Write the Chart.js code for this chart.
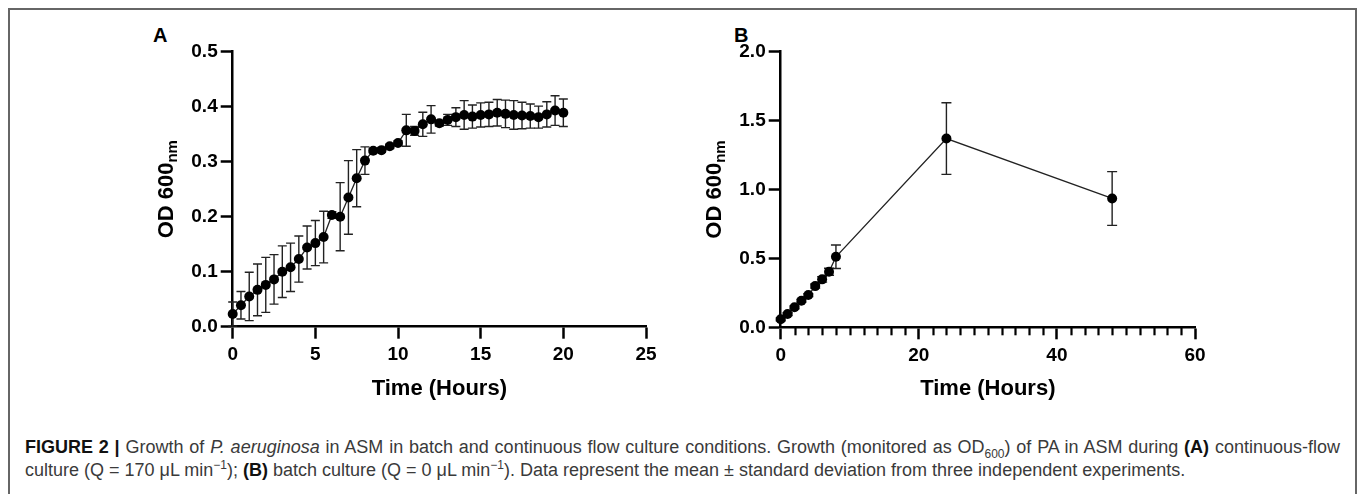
<!DOCTYPE html>
<html>
<head>
<meta charset="utf-8">
<title>Figure 2 - P. aeruginosa growth in ASM</title>
<script src="https://cdn.jsdelivr.net/npm/chart.js@4.4.0/dist/chart.umd.min.js"></script>
<style>
  html, body { margin: 0; padding: 0; background: #fff; }
  body { width: 1357px; height: 494px; position: relative; overflow: hidden; font-family: "Liberation Sans", Arial, sans-serif; }
  .frame { position: absolute; left: 8px; top: 8px; width: 1345px; height: 600px; border: 2px solid #666; border-bottom: none; }
  .panel-label { position: absolute; top: 24px; font-size: 20px; font-weight: bold; color: #000; }
  canvas { position: absolute; top: 0; }
  #chartA { left: 0; }
  #chartB { left: 680px; }
  .caption { position: absolute; left: 25px; top: 436px; width: 1315px; font-size: 18px; color: #3a3a3a; line-height: 23px; }
  .caption div { white-space: nowrap; }
  .caption .l1 { text-align: justify; text-align-last: justify; white-space: normal; }
  .caption b { color: #111; }
  .caption sub, .caption sup { font-size: 12px; line-height: 0; }
</style>
</head>
<body>
<div class="frame"></div>
<div class="panel-label" style="left:153px">A</div>
<div class="panel-label" style="left:734px">B</div>
<canvas id="chartA" width="680" height="400"></canvas>
<canvas id="chartB" width="677" height="400"></canvas>
<div class="caption">
  <div class="l1"><b>FIGURE 2 |</b> Growth of <i>P. aeruginosa</i> in ASM in batch and continuous flow culture conditions. Growth (monitored as OD<sub>600</sub>) of PA in ASM during <b>(A)</b> continuous-flow</div>
  <div>culture (Q = 170 μL min<sup>−1</sup>); <b>(B)</b> batch culture (Q = 0 μL min<sup>−1</sup>). Data represent the mean ± standard deviation from three independent experiments.</div>
</div>

<script>
// Panel A - continuous-flow culture, readings every 30 min
const timeA = [0, 0.5, 1, 1.5, 2, 2.5, 3, 3.5, 4, 4.5, 5, 5.5, 6, 6.5, 7, 7.5, 8, 8.5, 9, 9.5, 10,
               10.5, 11, 11.5, 12, 12.5, 13, 13.5, 14, 14.5, 15, 15.5, 16, 16.5, 17, 17.5, 18, 18.5, 19, 19.5, 20];
const odA = [0.023, 0.039, 0.055, 0.067, 0.076, 0.086, 0.100, 0.108, 0.123, 0.144, 0.152, 0.163, 0.203, 0.200, 0.235, 0.270, 0.302, 0.320, 0.321, 0.328, 0.334,
             0.357, 0.356, 0.368, 0.377, 0.370, 0.376, 0.381, 0.385, 0.382, 0.385, 0.386, 0.389, 0.387, 0.385, 0.384, 0.383, 0.381, 0.386, 0.393, 0.389];
const sdA = [0.022, 0.025, 0.044, 0.047, 0.050, 0.045, 0.047, 0.044, 0.042, 0.039, 0.041, 0.047, 0.006, 0.062, 0.067, 0.052, 0.025, 0.004, 0.004, 0.004, 0.004,
             0.029, 0.008, 0.022, 0.025, 0.005, 0.010, 0.017, 0.026, 0.021, 0.022, 0.022, 0.024, 0.025, 0.026, 0.024, 0.022, 0.020, 0.023, 0.027, 0.025];

// Panel B - batch culture
const timeB = [0, 1, 2, 3, 4, 5, 6, 7, 8, 24, 48];
const odB = [0.058, 0.096, 0.145, 0.193, 0.234, 0.299, 0.348, 0.403, 0.512, 1.370, 0.935];
const sdB = [0.010, 0.010, 0.010, 0.010, 0.010, 0.015, 0.020, 0.025, 0.085, 0.260, 0.195];

// axis ranges / ticks
const xTicksA = { min: 0, max: 25, step: 5 };
const yTicksA = { min: 0, max: 0.5, step: 0.1 };
const xTicksB = { min: 0, max: 60, step: 20, minor: 2 };
const yTicksB = { min: 0, max: 2.0, step: 0.5 };

Chart.defaults.font.family = '"Liberation Sans", Arial, sans-serif';
Chart.defaults.color = '#000';

// error bars drawn under the points
const errorBars = {
  id: 'errorBars',
  beforeDatasetsDraw(chart, args, opts) {
    const { ctx } = chart;
    const x = chart.scales.x, y = chart.scales.y;
    const pts = chart.data.datasets[0].data;
    ctx.save();
    ctx.strokeStyle = '#222';
    ctx.lineWidth = 1.4;
    pts.forEach((p, i) => {
      const e = opts.sd[i];
      if (!e) return;
      const px = x.getPixelForValue(p.x);
      const top = y.getPixelForValue(p.y + e);
      const bot = y.getPixelForValue(p.y - e);
      ctx.beginPath();
      ctx.moveTo(px, top); ctx.lineTo(px, bot);
      ctx.moveTo(px - opts.cap, top); ctx.lineTo(px + opts.cap, top);
      ctx.moveTo(px - opts.cap, bot); ctx.lineTo(px + opts.cap, bot);
      ctx.stroke();
    });
    ctx.restore();
  }
};

// rotated y title with subscript
const yTitle = {
  id: 'yTitle',
  afterDraw(chart) {
    const { ctx, chartArea } = chart;
    const cy = (chartArea.top + chartArea.bottom) / 2;
    const bx = chartArea.left - 60;
    ctx.save();
    ctx.translate(bx, cy);
    ctx.rotate(-Math.PI / 2);
    ctx.fillStyle = '#000';
    ctx.textBaseline = 'alphabetic';
    ctx.font = 'bold 22px "Liberation Sans", Arial, sans-serif';
    const main = 'OD 600';
    const w1 = ctx.measureText(main).width;
    ctx.font = 'bold 15px "Liberation Sans", Arial, sans-serif';
    const w2 = ctx.measureText('nm').width;
    const start = -(w1 + w2) / 2;
    ctx.font = 'bold 22px "Liberation Sans", Arial, sans-serif';
    ctx.fillText(main, start, 0);
    ctx.font = 'bold 15px "Liberation Sans", Arial, sans-serif';
    ctx.fillText('nm', start + w1, 4);
    ctx.restore();
  }
};

// small unlabelled ticks on the B time axis
const minorTicks = {
  id: 'minorTicks',
  afterDraw(chart, args, opts) {
    if (!opts.step) return;
    const { ctx, chartArea } = chart;
    const x = chart.scales.x;
    ctx.save();
    ctx.strokeStyle = '#000';
    ctx.lineWidth = 2.2;
    for (let v = x.min + opts.step; v < x.max; v += opts.step) {
      if (Math.abs(v % opts.major) < 1e-9) continue;
      const px = Math.round(x.getPixelForValue(v)) + 0.5;
      ctx.beginPath();
      ctx.moveTo(px, chartArea.bottom);
      ctx.lineTo(px, chartArea.bottom + 8);
      ctx.stroke();
    }
    ctx.restore();
  }
};

function makeChart(id, times, values, sd, xr, yr, box) {
  const pts = times.map((t, i) => ({ x: t, y: values[i] }));
  const tickFont = { size: 19, weight: 'bold' };
  return new Chart(document.getElementById(id), {
    type: 'line',
    data: {
      datasets: [{
        data: pts,
        borderColor: '#222',
        borderWidth: 1.3,
        pointRadius: 5,
        pointBackgroundColor: '#000',
        pointBorderWidth: 0,
        tension: 0,
        clip: false
      }]
    },
    options: {
      responsive: false,
      animation: false,
      layout: { padding: { left: 0, top: box.top, right: box.right, bottom: 0 } },
      plugins: {
        legend: { display: false },
        tooltip: { enabled: false },
        errorBars: { sd: sd, cap: box.cap },
        minorTicks: { step: xr.minor || 0, major: xr.step }
      },
      scales: {
        x: {
          type: 'linear',
          min: xr.min, max: xr.max,
          afterFit(s) { s.height = box.xh; },
          ticks: { stepSize: xr.step, font: tickFont, padding: 5, color: '#000' },
          grid: { drawOnChartArea: false, tickLength: 12, tickWidth: 2.5, tickColor: '#000' },
          border: { color: '#000', width: 2.5 },
          title: { display: true, text: 'Time (Hours)', color: '#000',
                   font: { size: 22, weight: 'bold', lineHeight: 1 }, padding: { top: 0, bottom: 0 } }
        },
        y: {
          min: yr.min, max: yr.max,
          afterFit(s) { s.width = box.yw; },
          ticks: { stepSize: yr.step, font: tickFont, padding: 3, color: '#000',
                   callback: v => v.toFixed(1) },
          grid: { drawOnChartArea: false, tickLength: 12, tickWidth: 2.5, tickColor: '#000' },
          border: { color: '#000', width: 2.5 }
        }
      }
    },
    plugins: [errorBars, yTitle, minorTicks]
  });
}

document.addEventListener('DOMContentLoaded', function() {
  makeChart('chartA', timeA, odA, sdA, xTicksA, yTicksA,
            { top: 51.7, right: 34, xh: 73.3, yw: 232.7, cap: 4.5 });
  makeChart('chartB', timeB, odB, sdB, xTicksB, yTicksB,
            { top: 51.7, right: 162, xh: 72.7, yw: 100.7, cap: 5 });
});
</script>
</body>
</html>
